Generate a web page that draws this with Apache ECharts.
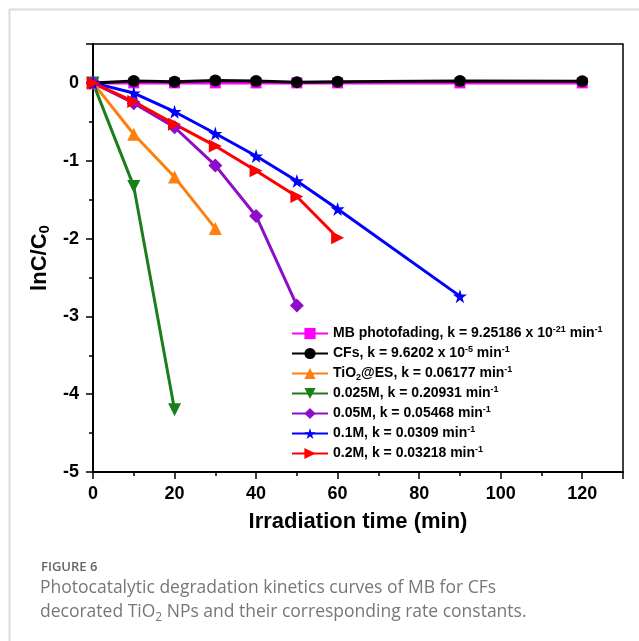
<!DOCTYPE html>
<html>
<head>
<meta charset="utf-8">
<script src="https://cdn.jsdelivr.net/npm/echarts@6/dist/echarts.min.js"></script>
<style>
  html, body { margin: 0; padding: 0; background: #fff; }
  #chart { width: 639px; height: 641px; }
</style>
</head>
<body>
<div id="chart"></div>
<script>
// irradiation times (min)
const tMB = [0, 10, 20, 30, 40, 50, 60, 90, 120]
const tCF = [0, 10, 20, 30, 40, 50, 60, 90, 120]
const tTiO2 = [0, 10, 20, 30]
const t025 = [0, 10, 20]
const t05 = [0, 10, 20, 30, 40, 50]
const t1 = [0, 10, 20, 30, 40, 50, 60, 90]
const t2 = [0, 10, 20, 30, 40, 50, 60]

// lnC/C0 values
const yMB = [0, 0, 0, 0, 0, 0, 0, 0, 0]
const yCF = [0, 0.025, 0.015, 0.03, 0.025, 0.01, 0.015, 0.025, 0.02]
const yTiO2 = [0, -0.66, -1.21, -1.87]
const y025 = [0, -1.33, -4.2]
const y05 = [0, -0.26, -0.57, -1.06, -1.71, -2.86]
const y1 = [0, -0.13, -0.37, -0.65, -0.94, -1.26, -1.62, -2.74]
const y2 = [0, -0.24, -0.53, -0.81, -1.13, -1.46, -1.99]

const seriesNames = ['MB photofading', 'CFs', 'TiO2@ES', '0.025M', '0.05M', '0.1M', '0.2M']
const legendLabels = [
  'MB photofading, k = 9.25186 x 10{sup|-21} min{sup|-1}',
  'CFs, k = 9.6202 x 10{sup|-5} min{sup|-1}',
  'TiO{sub|2}@ES, k = 0.06177 min{sup|-1}',
  '0.025M, k = 0.20931 min{sup|-1}',
  '0.05M, k = 0.05468 min{sup|-1}',
  '0.1M, k = 0.0309 min{sup|-1}',
  '0.2M, k = 0.03218 min{sup|-1}'
]
const xTicks = [0, 20, 40, 60, 80, 100, 120]
const yTicks = [-5, -4, -3, -2, -1, 0]

const starPath = 'path://M50,0 L61,35 L98,35 L68,57 L79,91 L50,70 L21,91 L32,57 L2,35 L39,35 Z'

function pairs(xs, ys) {
  return xs.map((x, i) => [x, ys[i]])
}

const chart = echarts.init(document.getElementById('chart'))

function makeSeries(name, xs, ys, color, symbol, size, rotate) {
  return {
    name: name,
    type: 'line',
    data: pairs(xs, ys),
    symbol: symbol,
    symbolSize: size,
    symbolRotate: rotate || 0,
    showAllSymbol: true,
    lineStyle: { color: color, width: 3 },
    itemStyle: { color: color },
    animation: false
  }
}

const labelMap = {}
seriesNames.forEach((n, i) => { labelMap[n] = legendLabels[i] })

chart.setOption({
  backgroundColor: '#fff',
  textStyle: { fontFamily: 'Liberation Sans, Arial, sans-serif' },
  grid: {
    left: 93,
    right: 16,
    top: 44,
    bottom: 169,
    show: true,
    borderColor: '#000',
    borderWidth: 1.5
  },
  xAxis: {
    type: 'value',
    min: 0,
    max: 130,
    interval: 20,
    name: 'Irradiation time (min)',
    nameLocation: 'middle',
    nameGap: 39,
    nameTextStyle: { fontSize: 22, fontWeight: 'bold', color: '#000' },
    axisLine: { show: true, onZero: false, lineStyle: { color: '#000', width: 2 } },
    axisTick: { show: true, inside: false, length: 7, lineStyle: { color: '#000', width: 1.5 } },
    minorTick: { show: true, splitNumber: 2, length: 4, lineStyle: { color: '#000', width: 1.5 } },
    splitLine: { show: false },
    axisLabel: {
      fontSize: 18,
      fontWeight: 'bold',
      color: '#000',
      margin: 13,
      showMaxLabel: false,
      formatter: v => (xTicks.indexOf(v) >= 0 ? String(v) : '')
    }
  },
  yAxis: {
    type: 'value',
    min: -5,
    max: 0.5,
    interval: 1,
    name: 'lnC/C{sub|0}',
    nameLocation: 'middle',
    nameGap: 38,
    nameTextStyle: {
      fontSize: 22,
      fontWeight: 'bold',
      color: '#000',
      rich: {
        sub: { fontSize: 15, fontWeight: 'bold', color: '#000', verticalAlign: 'bottom', padding: [10, 0, 0, 0] }
      }
    },
    axisLine: { show: true, onZero: false, lineStyle: { color: '#000', width: 2 } },
    axisTick: { show: true, inside: false, length: 7, lineStyle: { color: '#000', width: 1.5 } },
    minorTick: { show: true, splitNumber: 2, length: 4, lineStyle: { color: '#000', width: 1.5 } },
    splitLine: { show: false },
    axisLabel: {
      fontSize: 18,
      fontWeight: 'bold',
      color: '#000',
      margin: 14,
      showMaxLabel: false,
      formatter: v => (yTicks.indexOf(v) >= 0 ? String(v) : '')
    }
  },
  legend: {
    orient: 'vertical',
    left: 286,
    top: 320,
    itemWidth: 36,
    itemHeight: 14,
    itemGap: 3,
    selectedMode: false,
    data: seriesNames,
    formatter: name => labelMap[name],
    textStyle: {
      fontSize: 14,
      fontWeight: 'bold',
      color: '#000',
      lineHeight: 17,
      rich: {
        sup: { fontSize: 9, fontWeight: 'bold', color: '#000', verticalAlign: 'top', lineHeight: 7 },
        sub: { fontSize: 9, fontWeight: 'bold', color: '#000', verticalAlign: 'bottom', lineHeight: 8 }
      }
    }
  },
  graphic: [
    {
      type: 'rect',
      silent: true,
      shape: { x: 9.5, y: 9.5, width: 660, height: 660 },
      style: { fill: 'none', stroke: '#dcdcdc', lineWidth: 2 }
    },
    {
      type: 'text',
      left: 41,
      top: 561,
      style: { text: 'FIGURE 6', fontSize: 13, fontFamily: 'Open Sans', fontWeight: 600, fill: '#666' }
    },
    {
      type: 'text',
      left: 40,
      top: 576,
      style: {
        text: 'Photocatalytic degradation kinetics curves of MB for CFs\ndecorated TiO{sub|2} NPs and their corresponding rate constants.',
        fontSize: 17.5,
        fontFamily: 'Open Sans',
        fill: '#777',
        lineHeight: 24,
        rich: {
          sub: { fontSize: 12, fontFamily: 'Open Sans', fill: '#777', verticalAlign: 'bottom', lineHeight: 20 }
        }
      }
    }
  ],
  series: [
    makeSeries(seriesNames[0], tMB, yMB, '#ff00ff', 'rect', 11),
    makeSeries(seriesNames[1], tCF, yCF, '#000000', 'circle', 12),
    makeSeries(seriesNames[2], tTiO2, yTiO2, '#ff7f0e', 'triangle', 13),
    makeSeries(seriesNames[3], t025, y025, '#1a7f1a', 'triangle', 13, 180),
    makeSeries(seriesNames[4], t05, y05, '#8e0ec8', 'diamond', 14),
    makeSeries(seriesNames[5], t1, y1, '#0000ff', starPath, 14),
    makeSeries(seriesNames[6], t2, y2, '#ff0000', 'triangle', 13, -90)
  ]
})
</script>
</body>
</html>
